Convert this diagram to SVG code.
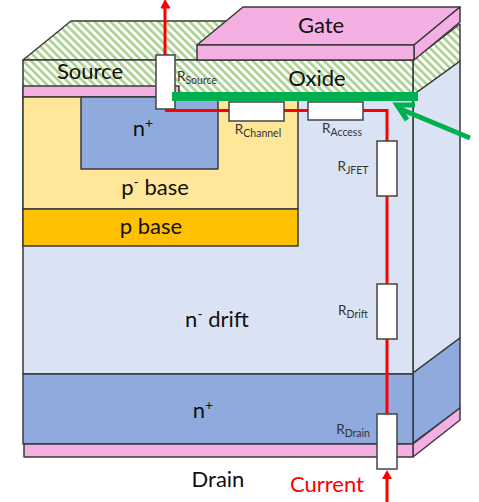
<svg xmlns="http://www.w3.org/2000/svg" width="479" height="502" viewBox="0 0 479 502">
<style>
.s{stroke:#3a3a3a;stroke-width:1.5;stroke-linejoin:round}
.w{fill:#fff;stroke:#444;stroke-width:1.5}
.pk{fill:#f4b0e2}.bl{fill:#8faadc}.lb{fill:#dae3f3}
.t{font-family:"Lato","Open Sans",sans-serif;fill:#111;text-anchor:middle}
.l{font-size:22px}.r{font-size:13.5px;fill:#333}.sub{font-size:10.5px}
.red{stroke:#f00;stroke-width:3;fill:none}
</style>
<defs>
<pattern id="h" width="5.6" height="5.6" patternUnits="userSpaceOnUse" patternTransform="rotate(-45)">
<rect width="5.6" height="5.6" fill="#fff"/><rect width="2.6" height="5.6" fill="#a9d18e"/>
</pattern>
</defs>
<g id="side">
<path class="s lb" d="M413 95L460 61V338L413 373Z"/>
<path class="s bl" d="M413 373L460 338V408L413 443Z"/>
<path class="s pk" d="M413 444L460 408V420L413 457Z"/>
<path class="s" fill="url(#h)" d="M413 60L460 24V61L413 95Z"/>
</g>
<g id="oxide-top"><path class="s" fill="url(#h)" d="M23 60L71 21H243L197 60Z"/></g>
<g id="drift"><rect class="s lb" x="23" y="97" width="390" height="277"/></g>
<g id="oxide"><rect class="s" fill="url(#h)" x="23" y="60" width="390" height="37"/></g>
<g id="source-metal"><path class="s pk" d="M23 86H179V97H23Z"/></g>
<g id="p-minus-base"><rect x="23" y="97" width="275" height="112" fill="#ffe699" class="s"/></g>
<g id="n-plus-top"><rect class="s bl" x="81" y="97" width="137" height="72"/></g>
<g id="p-base"><rect x="23" y="209" width="275" height="37" fill="#ffc000" class="s"/></g>
<g id="n-plus-bottom"><rect class="s bl" x="23" y="374" width="390" height="70"/></g>
<g id="drain-metal"><rect class="s pk" x="24" y="444" width="389" height="13"/></g>
<g id="gate">
<path class="s pk" d="M197 45L243 7H460L414 45Z"/>
<path class="s pk" d="M414 45L460 7V22L414 60Z"/>
<rect class="s pk" x="197" y="45" width="217" height="15"/>
</g>
<g id="connectors">
<path class="red" d="M165 55V6"/>
<path d="M161 8L165 0L170 8Z" fill="#f00" stroke="#f00"/>
<path class="red" d="M165 110.500H229M284 110.500H308M363 110.500H387V141M387 196V284M387 339V414M387 502V476"/>
<path d="M382 479L387 470L392 479Z" fill="#f00"/>
</g>
<g id="r-source"><rect class="w" x="156" y="55" width="19" height="54"/></g>
<g id="r-channel"><rect class="w" x="229" y="102" width="55" height="19"/></g>
<g id="r-access"><rect class="w" x="308" y="102" width="55" height="18"/></g>
<g id="r-jfet"><rect class="w" x="377" y="141" width="20" height="55"/></g>
<g id="r-drift"><rect class="w" x="377" y="284" width="20" height="55"/></g>
<g id="r-drain"><rect class="w" x="377" y="414" width="20" height="55"/></g>
<g id="green-marker">
<rect x="172" y="92" width="246" height="9" fill="#00b050"/>
<path d="M470 138L398 108M415 105H397L407 120" fill="none" stroke="#00b050" stroke-width="5"/>
</g>
<g id="labels">
<text class="t l" x="321" y="33">Gate</text>
<text class="t l" x="90" y="79">Source</text>
<text class="t l" x="317" y="86">Oxide</text>
<text class="t l" x="143" y="136">n<tspan font-size="14" dy="-8">+</tspan></text>
<text class="t l" x="155" y="195">p<tspan font-size="14" dy="-8">-</tspan><tspan dy="8"> base</tspan></text>
<text class="t l" x="151" y="234">p base</text>
<text class="t l" x="217" y="327">n<tspan font-size="14" dy="-8">-</tspan><tspan dy="8"> drift</tspan></text>
<text class="t l" x="203" y="418">n<tspan font-size="14" dy="-8">+</tspan></text>
<text class="t l" x="218" y="487">Drain</text>
<text class="t l" x="327" y="492" style="fill:#f00">Current</text>
<text class="t r" x="197" y="81">R<tspan class="sub" dy="3">Source</tspan></text>
<text class="t r" x="258" y="134">R<tspan class="sub" dy="3">Channel</tspan></text>
<text class="t r" x="342" y="133">R<tspan class="sub" dy="3">Access</tspan></text>
<text class="t r" x="353" y="171">R<tspan class="sub" dy="3">JFET</tspan></text>
<text class="t r" x="353" y="315">R<tspan class="sub" dy="3">Drift</tspan></text>
<text class="t r" x="353" y="434">R<tspan class="sub" dy="3">Drain</tspan></text>
</g>
</svg>
